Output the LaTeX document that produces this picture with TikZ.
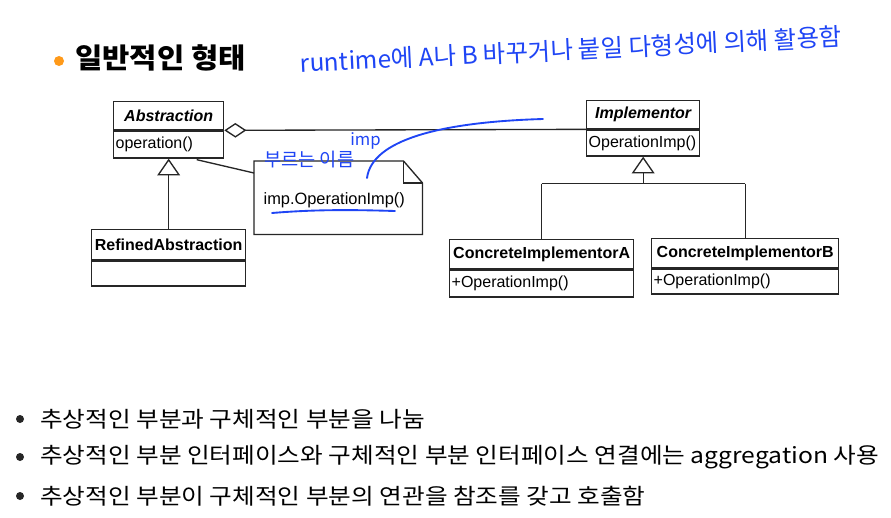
\documentclass[tikz,border=0pt]{standalone}
\usepackage{fontspec}
\setmainfont{Liberation Sans}
\newfontfamily\kr{Noto Sans CJK KR}
\newfontfamily\krw[FakeStretch=1.12]{Noto Sans CJK KR}
\newfontfamily\krt[FakeStretch=1.06]{Noto Sans CJK KR}
\usetikzlibrary{arrows.meta,calc}
\definecolor{pen}{HTML}{1F45F5}
\definecolor{dotorange}{HTML}{FF9A1A}
\tikzset{
  umlline/.style={line width=1pt, draw=black!85},
  hdr/.style={draw=black!85, line width=1pt, anchor=north west, inner sep=0pt, align=center, font=\fontsize{12}{14}\selectfont\bfseries},
  bdy/.style={draw=black!85, line width=1pt, anchor=north, inner sep=0pt, font=\fontsize{12}{14}\selectfont},
  inh/.style={umlline, {Triangle[open,length=12.5pt,width=17pt,line width=1pt]}-},
  agg/.style={umlline, {Diamond[open,length=16.5pt,width=11pt,line width=1pt]}-},
  penline/.style={draw=pen, line width=1.4pt, line cap=round},
  pentext/.style={text=pen, font=\kr},
  bodytext/.style={anchor=west, inner sep=0pt, font=\krw\fontsize{16.5}{19}\selectfont},
  bdot/.style={circle, fill=black!85, inner sep=0pt, minimum size=6pt}
}
\begin{document}
\begin{tikzpicture}[x=0.75pt,y=-0.75pt]
\useasboundingbox[fill=white] (0,0) rectangle (891,517);

% title
\node[circle, fill=dotorange, inner sep=0pt, minimum size=7.5pt] (tdot) at (59,61) {};
\node[anchor=west, inner sep=0pt, font=\krt\bfseries\fontsize{21}{24}\selectfont] (title) at (75,58) {일반적인 형태};

% handwritten annotation
\node[pentext, anchor=west, rotate=2.8, inner sep=0pt, font=\kr\fontsize{18.3}{20}\selectfont] (hw) at (300,63) {runtime에 A나 B 바꾸거나 붙일 다형성에 의해 활용함};

% Abstraction
\node[hdr, minimum width=110*0.75pt, minimum height=28*0.75pt] (absh) at (113,101) {\itshape Abstraction};
\node[bdy, minimum width=110*0.75pt, minimum height=27*0.75pt, text width=106*0.75pt, align=left] (absb) at (absh.south) {operation()};

% RefinedAbstraction
\node[hdr, minimum width=154*0.75pt, minimum height=30*0.75pt] (refh) at (91,229) {RefinedAbstraction};
\node[bdy, minimum width=154*0.75pt, minimum height=25*0.75pt] (refb) at (refh.south) {};

% Implementor
\node[hdr, minimum width=113*0.75pt, minimum height=28*0.75pt] (imph) at (586,100) {\itshape Implementor};
\node[bdy, minimum width=113*0.75pt, minimum height=26*0.75pt, text width=109*0.75pt, align=left] (impb) at (imph.south) {OperationImp()};

% ConcreteImplementorA
\node[hdr, minimum width=184*0.75pt, minimum height=29*0.75pt] (cah) at (449,239) {ConcreteImplementorA};
\node[bdy, minimum width=184*0.75pt, minimum height=27*0.75pt, text width=180*0.75pt, align=left] (cab) at (cah.south) {+OperationImp()};

% ConcreteImplementorB
\node[hdr, minimum width=187*0.75pt, minimum height=29*0.75pt] (cbh) at (651,238) {ConcreteImplementorB};
\node[bdy, minimum width=187*0.75pt, minimum height=25*0.75pt, text width=183*0.75pt, align=left] (cbb) at (cbh.south) {+OperationImp()};

% Note
\node[anchor=north west, minimum width=168*0.75pt, minimum height=73*0.75pt, inner sep=0pt, font=\fontsize{12.3}{14}\selectfont] (note) at (254,161) {\hspace*{-6pt}\raisebox{-5.2pt}[0pt][0pt]{imp.OperationImp()}};
\draw[umlline] (note.north west) -- ($(note.north east)+(-19,0)$) coordinate (fold) -- ($(note.north east)+(0,22)$) -- (note.south east) -- (note.south west) -- cycle;
\draw[umlline] (fold) -- ++(0,22) -- ($(note.north east)+(0,22)$);
\draw[umlline] ($(absb.south)+(28,1)$) -- ($(note.north west)+(0,12)$);

% aggregation
\draw[agg] (absh.south east) -- (imph.south west);

% inheritance Abstraction
\draw[inh] (absb.south) -- (refh.north);

% inheritance Implementor
\draw[inh] (impb.south) -- ++(0,27) coordinate (j);
\draw[umlline] (j -| cah.north) -- (j -| cbh.north);
\draw[umlline] (j -| cah.north) -- (cah.north);
\draw[umlline] (j -| cbh.north) -- (cbh.north);

% handwritten marks near note
\node[pentext, anchor=west, inner sep=0pt, font=\kr\fontsize{14}{16}\selectfont] (hw2) at (264,160) {부르는 이름};
\node[pentext, anchor=west, inner sep=0pt, font=\kr\fontsize{12.5}{14}\selectfont] (hw3) at (350,141) {imp};
\draw[penline] (367,178) .. controls (372,140) and (440,122) .. (543,119);
\draw[penline] (272,213) .. controls (320,209) and (360,210) .. (395,211);

% bullets
\node[bdot] (b1) at (20,419) {};
\node[bodytext] (t1) at (40,419) {추상적인 부분과 구체적인 부분을 나눔};
\node[bdot] (b2) at (20,457) {};
\node[bodytext] (t2) at (40,457) {추상적인 부분 인터페이스와 구체적인 부분 인터페이스 연결에는 aggregation 사용};
\node[bdot] (b3) at (20,496) {};
\node[bodytext] (t3) at (40,496) {추상적인 부분이 구체적인 부분의 연관을 참조를 갖고 호출함};
\end{tikzpicture}
\end{document}
